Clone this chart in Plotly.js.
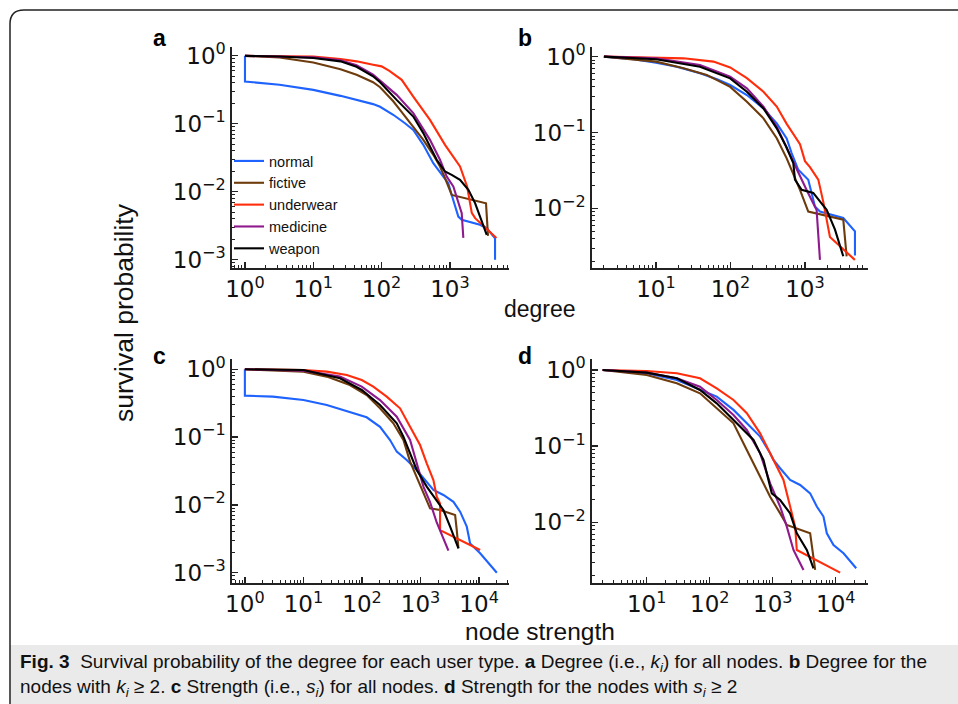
<!DOCTYPE html>
<html><head><meta charset="utf-8">
<script src="https://cdn.plot.ly/plotly-3.0.1.min.js"></script>
<style>html,body{margin:0;padding:0;background:#fff}#chart{width:958px;height:704px}</style>
</head><body><div id="chart"></div>
<script>
// ---------- series ----------
const seriesNames = ['normal', 'fictive', 'underwear', 'medicine', 'weapon'];
const seriesColors = ['#1e62ff', '#6e3b0c', '#ff2d0c', '#8e1a8e', '#000000'];

// panel a : degree, all nodes
const aNormalX = [1, 1, 3.2, 10, 25, 43, 75, 95, 148, 220, 291, 408, 571, 800, 948, 1062, 1188, 1328, 1489, 2756, 3459, 4577, 4577];
const aNormalY = [1.0, 0.42, 0.375, 0.316, 0.258, 0.225, 0.195, 0.178, 0.136, 0.102, 0.0816, 0.0491, 0.0264, 0.0168, 0.0134, 0.009, 0.0061, 0.00433, 0.00389, 0.00327, 0.00292, 0.00208, 0.001];
const aFictiveX = [1, 3.2, 10, 25, 43, 75, 95, 148, 186, 291, 408, 571, 716, 848, 1000, 1062, 3375, 3611];
const aFictiveY = [1.0, 0.945, 0.8, 0.637, 0.526, 0.41, 0.346, 0.215, 0.161, 0.0914, 0.0582, 0.035, 0.0236, 0.0159, 0.0107, 0.009, 0.0068, 0.00225];
const aUnderwearX = [1, 3.2, 10, 25, 43, 75, 100, 130, 197, 291, 511, 848, 1406, 1790, 2090, 2340, 4800];
const aUnderwearY = [1.0, 0.99, 0.975, 0.9, 0.83, 0.74, 0.70, 0.6, 0.444, 0.252, 0.1145, 0.049, 0.0236, 0.0119, 0.0049, 0.0041, 0.0021];
const aMedicineX = [1, 3.2, 10, 25, 43, 75, 95, 166, 291, 511, 716, 898, 1122, 1328, 1489, 1572];
const aMedicineY = [1.0, 0.985, 0.95, 0.86, 0.73, 0.53, 0.43, 0.267, 0.1436, 0.0582, 0.0296, 0.0168, 0.012, 0.00682, 0.00486, 0.0021];
const aWeaponX = [1, 3.2, 10, 25, 43, 75, 95, 166, 291, 408, 511, 641, 848, 1062, 1406, 1864, 2337, 2756, 3459];
const aWeaponY = [1.0, 0.978, 0.93, 0.83, 0.69, 0.5, 0.41, 0.225, 0.128, 0.073, 0.0464, 0.0296, 0.0199, 0.0178, 0.015, 0.0107, 0.00682, 0.00433, 0.00233];

// panel b : degree, k >= 2
const bNormalX = [2, 5, 10, 19, 39, 66, 99, 166, 277, 418, 568, 662, 813, 1107, 1361, 1589, 3266, 4688, 4688];
const bNormalY = [1.0, 0.922, 0.833, 0.738, 0.603, 0.502, 0.423, 0.312, 0.208, 0.132, 0.0838, 0.0536, 0.0323, 0.0239, 0.0106, 0.0091, 0.00748, 0.00498, 0.00239];
const bFictiveX = [2, 10, 23.5, 48, 66, 99, 166, 277, 418, 568, 857, 1107, 3266, 3625];
const bFictiveY = [1.0, 0.859, 0.702, 0.573, 0.49, 0.40, 0.255, 0.154, 0.084, 0.0456, 0.0176, 0.0091, 0.0071, 0.00234];
const bUnderwearX = [2, 10, 23.5, 59, 99, 166, 277, 418, 568, 857, 1000, 1167, 1509, 1762, 2163, 4673];
const bUnderwearY = [1.0, 0.97, 0.95, 0.86, 0.72, 0.52, 0.345, 0.22, 0.13, 0.07, 0.042, 0.035, 0.024, 0.0122, 0.0042, 0.0021];
const bMedicineX = [2, 10, 39, 99, 166, 277, 418, 629, 1052, 1433, 1589];
const bMedicineY = [1.0, 0.95, 0.776, 0.545, 0.382, 0.219, 0.119, 0.05, 0.0175, 0.0095, 0.0021];
const bWeaponX = [2, 10, 39, 99, 166, 277, 418, 560, 697, 734, 903, 1291, 1954, 2529, 3266];
const bWeaponY = [1.0, 0.922, 0.738, 0.518, 0.345, 0.208, 0.1135, 0.065, 0.0396, 0.0239, 0.0176, 0.016, 0.0096, 0.00525, 0.00234];

// panel c : strength, all nodes
const cNormalX = [1, 1, 3, 10, 25, 62, 120, 203, 301, 392, 580, 860, 1118, 1656, 2455, 3641, 4735, 6152, 7015, 10400, 20050];
const cNormalY = [1.0, 0.409, 0.395, 0.352, 0.298, 0.237, 0.196, 0.142, 0.0906, 0.061, 0.0459, 0.0327, 0.0247, 0.0166, 0.014, 0.0111, 0.00794, 0.00477, 0.0027, 0.00193, 0.001];
const cFictiveX = [1, 10, 25, 62, 120, 203, 343, 509, 662, 860, 1118, 1452, 2153, 3890, 4150, 4433];
const cFictiveY = [1.0, 0.924, 0.78, 0.587, 0.418, 0.266, 0.16, 0.0906, 0.0434, 0.0261, 0.0148, 0.0089, 0.0084, 0.00709, 0.00425, 0.00229];
const cUnderwearX = [1, 10, 25, 55, 99, 156, 264, 446, 662, 980, 1274, 1656, 1888, 2153, 2153, 10400];
const cUnderwearY = [1.0, 0.978, 0.924, 0.825, 0.696, 0.555, 0.395, 0.266, 0.1426, 0.0764, 0.041, 0.0233, 0.0132, 0.0105, 0.00425, 0.00216];
const cMedicineX = [1, 10, 42, 99, 203, 392, 662, 860, 1118, 1452, 1888, 2990];
const cMedicineY = [1.0, 0.956, 0.78, 0.555, 0.352, 0.2, 0.0906, 0.041, 0.0186, 0.011, 0.0055, 0.00211];
const cWeaponX = [1, 10, 42, 99, 203, 392, 509, 662, 860, 1274, 1888, 2455, 3194, 4433];
const cWeaponY = [1.0, 0.978, 0.737, 0.496, 0.298, 0.16, 0.1015, 0.0576, 0.0327, 0.0186, 0.0118, 0.0084, 0.00477, 0.00229];

// panel d : strength, s >= 2
const dNormalX = [2, 10, 30, 70, 129, 238, 387, 630, 907, 1025, 1307, 1883, 2714, 3911, 4990, 6366, 7191, 9180, 13240, 21030];
const dNormalY = [1.0, 0.904, 0.739, 0.546, 0.447, 0.299, 0.1995, 0.1333, 0.0805, 0.0658, 0.0512, 0.036, 0.0309, 0.024, 0.0161, 0.0119, 0.00718, 0.00504, 0.00392, 0.00249];
const dFictiveX = [2, 10, 30, 70, 129, 238, 387, 630, 907, 1307, 1667, 3911, 4699];
const dFictiveY = [1.0, 0.86, 0.668, 0.494, 0.314, 0.1995, 0.0891, 0.0398, 0.0217, 0.0131, 0.00922, 0.00718, 0.00237];
const dUnderwearX = [2, 10, 30, 70, 129, 238, 387, 630, 907, 1157, 1476, 1883, 2262, 2403, 11700];
const dUnderwearY = [1.0, 0.97, 0.904, 0.777, 0.574, 0.404, 0.27, 0.1474, 0.0805, 0.0538, 0.036, 0.0161, 0.00877, 0.00433, 0.00218];
const dMedicineX = [2, 10, 30, 70, 129, 238, 387, 630, 907, 1307, 1667, 2127, 3066];
const dMedicineY = [1.0, 0.923, 0.777, 0.604, 0.404, 0.2566, 0.163, 0.0805, 0.0325, 0.0161, 0.00877, 0.00433, 0.00237];
const dWeaponX = [2, 10, 30, 70, 129, 238, 494, 711, 964, 1307, 1883, 2403, 3463, 4418];
const dWeaponY = [1.0, 0.923, 0.777, 0.546, 0.365, 0.2207, 0.1205, 0.0658, 0.024, 0.0196, 0.0131, 0.00718, 0.00433, 0.00249];

// ---------- ticks ----------
const xTickValsA = [1, 10, 100, 1000];
const xTickTextA = ['10<sup>0</sup>', '10<sup>1</sup>', '10<sup>2</sup>', '10<sup>3</sup>'];
const xTickValsB = [10, 100, 1000];
const xTickTextB = ['10<sup>1</sup>', '10<sup>2</sup>', '10<sup>3</sup>'];
const xTickValsC = [1, 10, 100, 1000, 10000];
const xTickTextC = ['10<sup>0</sup>', '10<sup>1</sup>', '10<sup>2</sup>', '10<sup>3</sup>', '10<sup>4</sup>'];
const xTickValsD = [10, 100, 1000, 10000];
const xTickTextD = ['10<sup>1</sup>', '10<sup>2</sup>', '10<sup>3</sup>', '10<sup>4</sup>'];
const yTickVals3 = [1, 0.1, 0.01, 0.001];
const yTickText3 = ['10<sup>0</sup>', '10<sup>\u22121</sup>', '10<sup>\u22122</sup>', '10<sup>\u22123</sup>'];
const yTickVals2 = [1, 0.1, 0.01];
const yTickText2 = ['10<sup>0</sup>', '10<sup>\u22121</sup>', '10<sup>\u22122</sup>'];

function minorTicks(e0, e1) {
  const v = [];
  for (let e = e0; e <= e1; e++) for (let k = 2; k <= 9; k++) v.push(k * Math.pow(10, e));
  return v;
}

const panels = [
  {xs: [aNormalX, aFictiveX, aUnderwearX, aMedicineX, aWeaponX], ys: [aNormalY, aFictiveY, aUnderwearY, aMedicineY, aWeaponY]},
  {xs: [bNormalX, bFictiveX, bUnderwearX, bMedicineX, bWeaponX], ys: [bNormalY, bFictiveY, bUnderwearY, bMedicineY, bWeaponY]},
  {xs: [cNormalX, cFictiveX, cUnderwearX, cMedicineX, cWeaponX], ys: [cNormalY, cFictiveY, cUnderwearY, cMedicineY, cWeaponY]},
  {xs: [dNormalX, dFictiveX, dUnderwearX, dMedicineX, dWeaponX], ys: [dNormalY, dFictiveY, dUnderwearY, dMedicineY, dWeaponY]}
];

const traces = [];
panels.forEach((p, pi) => {
  const sfx = pi === 0 ? '' : String(pi + 1);
  seriesNames.forEach((name, si) => {
    traces.push({
      type: 'scatter', mode: 'lines', name: name,
      x: p.xs[si], y: p.ys[si],
      xaxis: 'x' + sfx, yaxis: 'y' + sfx,
      line: {color: seriesColors[si], width: 2.1},
      showlegend: pi === 0, legendrank: si + 1, hoverinfo: 'skip'
    });
  });
});

const W = 958, H = 704;
const fx = px => px / W, fy = py => 1 - py / H;

function logAxis(range, dom, anchor, tv, tt, minor) {
  return {type: 'log', range: range, domain: dom, anchor: anchor,
    showline: true, linecolor: '#222', linewidth: 1.6, mirror: false,
    ticks: 'inside', ticklen: 6, tickwidth: 1.3, tickcolor: '#222',
    tickmode: 'array', tickvals: tv, ticktext: tt,
    tickfont: {family: 'DejaVu Sans', size: 23, color: '#111'},
    showgrid: false, zeroline: false, fixedrange: true,
    minor: {tickmode: 'array', tickvals: minor, ticks: 'inside', ticklen: 3, tickwidth: 1, tickcolor: '#222', showgrid: false}};
}

const layout = {
  width: W, height: H,
  margin: {l: 0, r: 0, t: 0, b: 0},
  paper_bgcolor: '#ffffff', plot_bgcolor: 'rgba(0,0,0,0)',
  showlegend: true,
  legend: {x: fx(229), y: fy(145), xanchor: 'left', yanchor: 'top',
    bgcolor: 'rgba(0,0,0,0)', borderwidth: 0, itemwidth: 30, tracegroupgap: 0,
    font: {family: 'Liberation Sans, Arial, sans-serif', size: 14.5, color: '#111'}},
  xaxis: logAxis([-0.19, 3.865], [fx(232), fx(509)], 'y', xTickValsA, xTickTextA, minorTicks(-1, 3)),
  yaxis: logAxis([-3.12, 0.13], [fy(268), fy(47)], 'x', yTickVals3, yTickText3, minorTicks(-4, 0)),
  xaxis2: logAxis([0.141, 3.846], [fx(592), fx(868)], 'y2', xTickValsB, xTickTextB, minorTicks(0, 3)),
  yaxis2: logAxis([-2.785, 0.127], [fy(268), fy(47)], 'x2', yTickVals2, yTickText2, minorTicks(-3, 0)),
  xaxis3: logAxis([-0.22, 4.51], [fx(232), fx(509)], 'y3', xTickValsC, xTickTextC, minorTicks(-1, 4)),
  yaxis3: logAxis([-3.152, 0.152], [fy(583), fy(359)], 'x3', yTickVals3, yTickText3, minorTicks(-4, 0)),
  xaxis4: logAxis([0.132, 4.51], [fx(592), fx(868)], 'y4', xTickValsD, xTickTextD, minorTicks(0, 4)),
  yaxis4: logAxis([-2.797, 0.144], [fy(583), fy(359)], 'x4', yTickVals2, yTickText2, minorTicks(-3, 0)),
  shapes: [
    {type: 'rect', xref: 'paper', yref: 'paper', x0: fx(10), x1: 1, y0: 0, y1: fy(645),
      fillcolor: '#eaeaea', line: {width: 0}, layer: 'below'},
    {type: 'path', xref: 'paper', yref: 'paper',
      path: 'M ' + fx(10) + ',0 L ' + fx(10) + ',' + fy(24) + ' Q ' + fx(10) + ',' + fy(10) + ' ' + fx(24) + ',' + fy(10) + ' L 1,' + fy(10),
      line: {color: '#222', width: 1.5}, layer: 'above'}
  ],
  annotations: [
    {text: '<b>a</b>', x: fx(159), y: fy(38), xref: 'paper', yref: 'paper', showarrow: false, xanchor: 'center', yanchor: 'middle', font: {family: 'Liberation Sans, Arial', size: 23, color: '#000'}},
    {text: '<b>b</b>', x: fx(525), y: fy(38), xref: 'paper', yref: 'paper', showarrow: false, xanchor: 'center', yanchor: 'middle', font: {family: 'Liberation Sans, Arial', size: 23, color: '#000'}},
    {text: '<b>c</b>', x: fx(159), y: fy(356), xref: 'paper', yref: 'paper', showarrow: false, xanchor: 'center', yanchor: 'middle', font: {family: 'Liberation Sans, Arial', size: 23, color: '#000'}},
    {text: '<b>d</b>', x: fx(525), y: fy(356), xref: 'paper', yref: 'paper', showarrow: false, xanchor: 'center', yanchor: 'middle', font: {family: 'Liberation Sans, Arial', size: 23, color: '#000'}},
    {text: 'survival probability', x: fx(124), y: fy(312), xref: 'paper', yref: 'paper', showarrow: false, textangle: -90, xanchor: 'center', yanchor: 'middle', font: {family: 'Liberation Sans, Arial', size: 26.5, color: '#111'}},
    {text: 'degree', x: fx(540), y: fy(309), xref: 'paper', yref: 'paper', showarrow: false, xanchor: 'center', yanchor: 'middle', font: {family: 'Liberation Sans, Arial', size: 23, color: '#111'}},
    {text: 'node strength', x: fx(540), y: fy(631), xref: 'paper', yref: 'paper', showarrow: false, xanchor: 'center', yanchor: 'middle', font: {family: 'Liberation Sans, Arial', size: 24.5, color: '#111'}},
    {text: '<b>Fig. 3</b>\u00a0\u00a0Survival probability of the degree for each user type. <b>a</b> Degree (i.e., <i>k<sub>i</sub></i>) for all nodes. <b>b</b> Degree for the',
      x: fx(18), y: fy(663), xref: 'paper', yref: 'paper', showarrow: false, xanchor: 'left', yanchor: 'middle', align: 'left',
      font: {family: 'Liberation Sans Narrow, Arial Narrow, Liberation Sans, sans-serif', size: 19, color: '#111'}},
    {text: 'nodes with <i>k<sub>i</sub></i> \u2265 2. <b>c</b> Strength (i.e., <i>s<sub>i</sub></i>) for all nodes. <b>d</b> Strength for the nodes with <i>s<sub>i</sub></i> \u2265 2',
      x: fx(18), y: fy(688), xref: 'paper', yref: 'paper', showarrow: false, xanchor: 'left', yanchor: 'middle', align: 'left',
      font: {family: 'Liberation Sans Narrow, Arial Narrow, Liberation Sans, sans-serif', size: 19, color: '#111'}}
  ]
};

Plotly.newPlot('chart', traces, layout, {staticPlot: true, displayModeBar: false});
</script>
</body></html>
